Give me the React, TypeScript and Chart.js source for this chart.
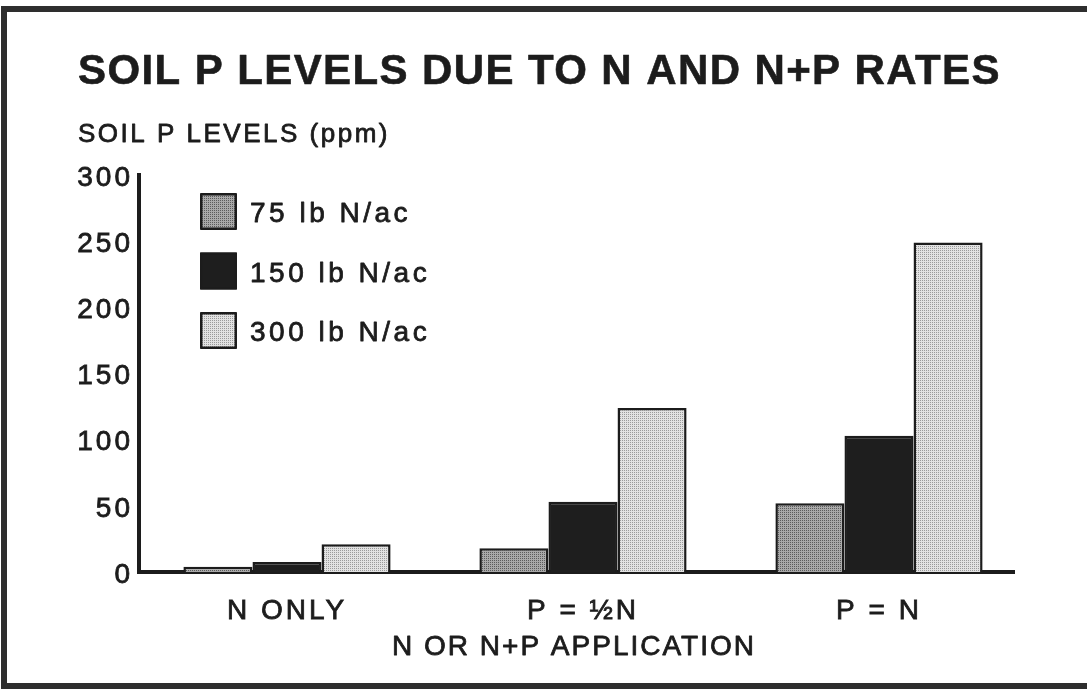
import React, { useEffect, useRef } from 'react';
import { Chart, registerables } from 'chart.js';

Chart.register(...registerables);

const categories = ['N ONLY', 'P = ½N', 'P = N'];
const seriesLabels = ['75 lb N/ac', '150 lb N/ac', '300 lb N/ac'];
const n75 = [4, 18, 52];
const n150 = [7.5, 53, 103];
const n300 = [21, 124, 249];
const yTicks = [0, 50, 100, 150, 200, 250, 300];
const chartTitle = 'SOIL P LEVELS DUE TO N AND N+P RATES';
const yTitle = 'SOIL P LEVELS (ppm)';
const xTitle = 'N OR N+P APPLICATION';

const INK = '#1c1c1c';
const FONT = '"Liberation Sans", Arial, Helvetica, sans-serif';
const AXIS_SHORTEN = 12;

function makePattern(bg: string, dot: string, size: number): CanvasPattern | string {
  const c = document.createElement('canvas');
  c.width = size;
  c.height = size;
  const g = c.getContext('2d');
  if (!g) return bg;
  g.fillStyle = bg;
  g.fillRect(0, 0, size, size);
  g.fillStyle = dot;
  g.fillRect(0, 0, 1, 1);
  const p = g.createPattern(c, 'repeat');
  return p || bg;
}

function inkText(ctx: CanvasRenderingContext2D, text: string, x: number, y: number, stroke: number) {
  ctx.fillText(text, x, y);
  if (stroke > 0) {
    ctx.lineWidth = stroke;
    ctx.strokeStyle = INK;
    ctx.strokeText(text, x, y);
  }
}

const textPlugin = {
  id: 'textPlugin',
  beforeUpdate(chart: any) {
    chart.ctx.letterSpacing = '3px';
  },
  beforeDraw(chart: any) {
    chart.ctx.letterSpacing = '3px';
  },
  beforeDatasetsDraw(chart: any) {
    const ctx = chart.ctx;
    const area = chart.chartArea;
    ctx.save();
    ctx.strokeStyle = INK;
    ctx.lineWidth = 4;
    ctx.beginPath();
    ctx.moveTo(area.left - 2, area.bottom);
    ctx.lineTo(area.right - AXIS_SHORTEN, area.bottom);
    ctx.stroke();
    ctx.restore();
  },
  afterDraw(chart: any) {
    const ctx = chart.ctx;
    const area = chart.chartArea;
    ctx.save();
    ctx.fillStyle = INK;
    ctx.textBaseline = 'alphabetic';
    ctx.textAlign = 'left';
    ctx.lineJoin = 'round';
    ctx.letterSpacing = '1.4px';
    ctx.font = `bold 42px ${FONT}`;
    inkText(ctx, chartTitle, 78, 84, 0.6);

    ctx.letterSpacing = '2.5px';
    ctx.font = `26px ${FONT}`;
    inkText(ctx, yTitle, 78, 142, 0.8);

    ctx.textAlign = 'center';
    ctx.letterSpacing = '2px';
    ctx.font = `28px ${FONT}`;
    inkText(ctx, xTitle, 574, 655, 0.8);

    chart.data.datasets.forEach((ds: any, i: number) => {
      const x = area.left + 61;
      const y = area.top + 18 + i * 59.5;
      ctx.fillStyle = ds.backgroundColor;
      ctx.fillRect(x, y, 37, 37);
      ctx.lineWidth = 2.5;
      ctx.strokeStyle = INK;
      ctx.strokeRect(x + 1.25, y + 1.25, 34.5, 34.5);
      ctx.fillStyle = INK;
      ctx.textAlign = 'left';
      ctx.font = `28px ${FONT}`;
      ctx.letterSpacing = '3.5px';
      inkText(ctx, ds.label, x + 50, y + 29, 0.8);
    });
    ctx.restore();
  },
};

export default function App() {
  const ref = useRef<HTMLCanvasElement | null>(null);

  useEffect(() => {
    document.body.style.margin = '0';
    const canvas = ref.current;
    if (!canvas) return;
    const fill75 = makePattern('#a9a9a9', '#5c5c5c', 2);
    const fill300 = makePattern('#e2e2e2', '#9a9a9a', 2);
    const chart = new Chart(canvas, {
      type: 'bar',
      data: {
        labels: categories,
        datasets: [
          { label: seriesLabels[0], data: n75, backgroundColor: fill75 as any, borderColor: INK, borderWidth: 2.5 },
          { label: seriesLabels[1], data: n150, backgroundColor: '#1e1e1e', borderColor: INK, borderWidth: 2.5 },
          { label: seriesLabels[2], data: n300, backgroundColor: fill300 as any, borderColor: INK, borderWidth: 2.5 },
        ],
      },
      options: {
        responsive: false,
        animation: false,
        devicePixelRatio: 1,
        layout: { padding: { left: 0, right: 60, top: 175, bottom: 0 } },
        datasets: { bar: { barPercentage: 1, categoryPercentage: 0.7 } },
        plugins: {
          legend: { display: false },
          title: { display: false },
          tooltip: { enabled: false },
        },
        scales: {
          x: {
            grid: { display: false, drawTicks: false },
            border: { display: false },
            ticks: {
              color: INK,
              font: { family: FONT, size: 28 },
              padding: 22,
              maxRotation: 0,
              textStrokeWidth: 0.8,
              textStrokeColor: INK,
            },
            afterFit: (s: any) => { s.height = 117; },
          },
          y: {
            min: 0,
            max: 300,
            grid: { display: false, drawTicks: false },
            border: { display: true, color: INK, width: 4 },
            ticks: {
              color: INK,
              font: { family: FONT, size: 28 },
              padding: 6,
              stepSize: 50,
              labelOffset: 3,
              textStrokeWidth: 0.8,
              textStrokeColor: INK,
            },
            afterBuildTicks: (s: any) => { s.ticks = yTicks.map((v) => ({ value: v })); },
            afterFit: (s: any) => { s.width = 139; },
          },
        },
      },
      plugins: [textPlugin],
    });
    return () => chart.destroy();
  }, []);

  return (
    <div style={{ position: 'relative', width: 1087, height: 689, overflow: 'hidden', background: '#fff' }}>
      <div
        style={{
          position: 'absolute',
          left: 1,
          top: 6,
          width: 1200,
          height: 671,
          borderTop: '6px solid #2e2e2e',
          borderLeft: '6px solid #2e2e2e',
          borderBottom: '6px solid #2e2e2e',
        }}
      />
      <canvas ref={ref} width={1087} height={689} style={{ position: 'absolute', left: 0, top: 0, display: 'block' }} />
    </div>
  );
}
